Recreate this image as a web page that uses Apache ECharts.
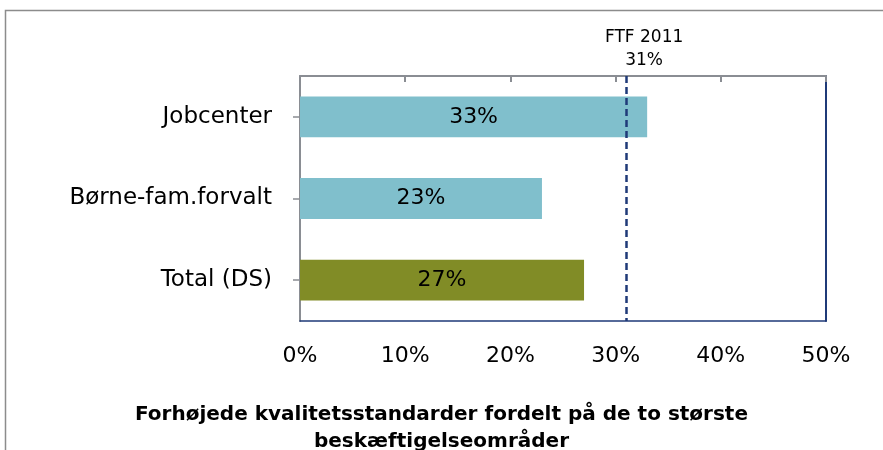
<!DOCTYPE html>
<html>
<head>
<meta charset="utf-8">
<script src="https://cdn.jsdelivr.net/npm/echarts@6/dist/echarts.min.js"></script>
<style>
  html, body { margin: 0; padding: 0; background: #fff; }
  #chart { width: 883px; height: 450px; }
</style>
</head>
<body>
<div id="chart"></div>
<script>
// Share of elevated quality standards by the two largest employment areas
const categories = ['Jobcenter', 'Børne-fam.forvalt', 'Total (DS)'];
const values = [33, 23, 27];
const benchmarkName = 'FTF 2011';
const benchmarkValue = 31;
const xTicks = [0, 10, 20, 30, 40, 50];

const barColors = ['#80BFCC', '#80BFCC', '#818C26'];
const navy = '#1F3A78';
const grey = '#8A8D93';
const font = 'DejaVu Sans, Verdana, sans-serif';

const chart = echarts.init(document.getElementById('chart'), null, { renderer: 'canvas' });

chart.setOption({
  animation: false,
  backgroundColor: '#fff',
  graphic: [{
    type: 'polyline',
    silent: true,
    shape: { points: [[5.5, 460], [5.5, 10.5], [890, 10.5]] },
    style: { stroke: '#8C8C8C', lineWidth: 1.5, fill: null }
  }],
  title: {
    text: 'Forhøjede kvalitetsstandarder fordelt på de to største\nbeskæftigelseområder',
    left: 'center',
    top: 396,
    textStyle: {
      fontFamily: font,
      fontWeight: 'bold',
      fontSize: 20,
      lineHeight: 27,
      color: '#000'
    }
  },
  grid: { left: 300, top: 76, right: 57, bottom: 129, containLabel: false },
  xAxis: [{
    type: 'value',
    position: 'bottom',
    min: xTicks[0],
    max: xTicks[xTicks.length - 1],
    interval: 10,
    axisLine: { show: true, onZero: false, lineStyle: { color: navy, width: 1.5 } },
    axisTick: { show: false },
    splitLine: { show: false },
    axisLabel: {
      formatter: '{value}%',
      margin: 24,
      fontFamily: font,
      fontSize: 22,
      color: '#000'
    }
  }, {
    type: 'value',
    position: 'top',
    min: xTicks[0],
    max: xTicks[xTicks.length - 1],
    interval: 10,
    axisLine: { show: true, onZero: false, lineStyle: { color: grey, width: 2 } },
    axisTick: { show: true, inside: true, length: 6, lineStyle: { color: grey, width: 2 } },
    splitLine: { show: false },
    axisLabel: { show: false }
  }],
  yAxis: [{
    type: 'category',
    data: categories,
    inverse: true,
    position: 'left',
    axisLine: { show: true, onZero: false, lineStyle: { color: grey, width: 2 } },
    axisTick: { show: true, alignWithLabel: true, length: 7, lineStyle: { color: grey, width: 1.5 } },
    axisLabel: {
      margin: 28,
      fontFamily: font,
      fontSize: 23,
      color: '#000'
    }
  }, {
    type: 'category',
    data: categories,
    inverse: true,
    position: 'right',
    axisLine: { show: true, onZero: false, lineStyle: { color: navy, width: 2 } },
    axisTick: { show: false },
    axisLabel: { show: false }
  }],
  series: [{
    type: 'bar',
    data: values,
    barWidth: '50%',
    itemStyle: {
      color: (p) => barColors[p.dataIndex]
    },
    label: {
      show: true,
      position: 'inside',
      formatter: '{c}%',
      fontFamily: font,
      fontSize: 22,
      color: '#000'
    },
    markLine: {
      silent: true,
      symbol: 'none',
      lineStyle: { color: navy, width: 2.5, type: [7, 4] },
      label: {
        show: true,
        position: 'start',
        formatter: benchmarkName + '\n' + benchmarkValue + '%',
        fontFamily: font,
        fontSize: 17,
        lineHeight: 23,
        color: '#000',
        offset: [18, 1]
      },
      data: [{ xAxis: benchmarkValue }]
    }
  }]
});
</script>
</body>
</html>
